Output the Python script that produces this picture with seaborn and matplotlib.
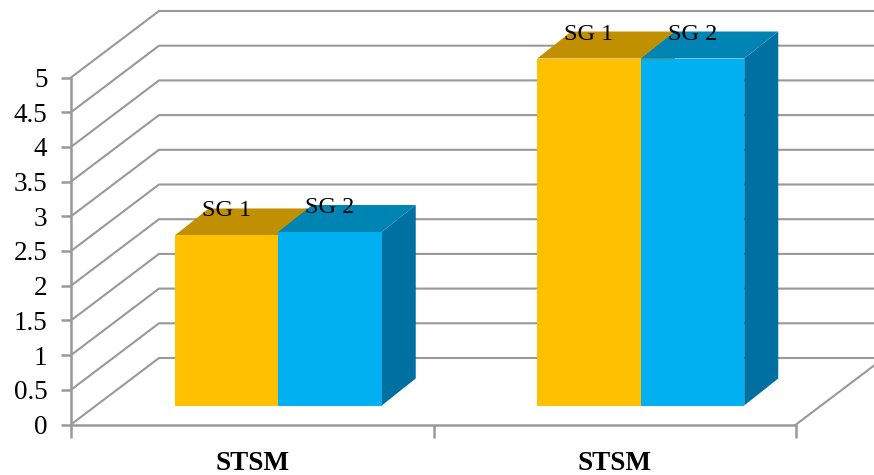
import matplotlib
matplotlib.use("Agg")
import matplotlib.pyplot as plt
from matplotlib.patches import Polygon
from matplotlib.colors import to_rgb
from matplotlib.transforms import ScaledTranslation
import pandas as pd
import seaborn as sns

groups = ["STSM", "STSM"]
group_ids = [0, 0, 1, 1]
series = ["SG 1", "SG 2", "SG 1", "SG 2"]
values = [2.45, 2.5, 5.0, 5.0]
y_ticks = [0, 0.5, 1, 1.5, 2, 2.5, 3, 3.5, 4, 4.5, 5]
y_tick_labels = ["0", "0.5", "1", "1.5", "2", "2.5", "3", "3.5", "4", "4.5", "5"]
palette = {"SG 1": "#FFC000", "SG 2": "#00B0F0"}
top_shade = {"SG 1": "#C09000", "SG 2": "#0084B4"}
side_shade = {"SG 1": "#C09000", "SG 2": "#0070A0"}

W, H = 874, 475
GRID = "#999999"
SERIF = "Liberation Serif"

# Plot box in pixels, measured from the top-left corner of the figure
LEFT, RIGHT, Y0, Y5 = 71, 796, 424.5, 77.5
# Wall depth and bar depth, in pixels
WALL_DX, WALL_DY = 88, 66.5
BAR_SHIFT_X, BAR_SHIFT_Y = 26, 19
BAR_DX, BAR_DY = 34, 27


def box(shift_x=0, shift_y=0):
    return [(LEFT + shift_x) / W, (H - Y0 + shift_y) / H,
            (RIGHT - LEFT) / W, (Y0 - Y5) / H]


sns.set_theme(style="white")
fig = plt.figure(figsize=(W / 100, H / 100), dpi=100)

ax = fig.add_axes(box())
ax.set_xlim(-0.5, 1.5)
ax.set_ylim(0, 5)
px_x = 2 / (RIGHT - LEFT)
px_y = 5 / (Y0 - Y5)

# Gridlines climb the side wall, then run along the back wall
wall_x = WALL_DX * px_x
wall_y = WALL_DY * px_y
for v in y_ticks:
    ax.plot([-0.5, -0.5 + wall_x, 1.5 + wall_x], [v, v + wall_y, v + wall_y],
            color=GRID, lw=1.5, clip_on=False, zorder=1, solid_joinstyle="miter")
ax.plot([1.5, 1.5 + wall_x], [0, wall_y], color=GRID, lw=1.5, clip_on=False, zorder=1)

ax.set_yticks(y_ticks, y_tick_labels, family=SERIF, fontsize=19.5, color="black")
ax.set_xticks([-0.5, 0.5, 1.5], ["", "", ""])
ax.set_xticks([0, 1], groups, minor=True, family=SERIF, fontsize=19.5,
              fontweight="bold", color="black")
ax.tick_params(axis="y", length=7, width=1.8, color=GRID, pad=10, left=True)
ax.tick_params(axis="x", which="major", length=9, width=1.8, color=GRID, bottom=True)
ax.tick_params(axis="x", which="minor", length=0, pad=19)
# Tick numerals sit slightly below their tick marks
nudge = ScaledTranslation(0, -3 / 100, fig.dpi_scale_trans)
for lbl in ax.get_yticklabels():
    lbl.set_verticalalignment("center")
    lbl.set_transform(lbl.get_transform() + nudge)
sns.despine(ax=ax)
for side in ("left", "bottom"):
    ax.spines[side].set_color(GRID)
    ax.spines[side].set_linewidth(1.8)

# Bars sit on a second, transparent axes pushed back into the floor
bar_ax = fig.add_axes(box(BAR_SHIFT_X, BAR_SHIFT_Y))
bar_ax.patch.set_alpha(0)
data = pd.DataFrame({"group": group_ids, "series": series, "value": values})
sns.barplot(data=data, x="group", y="value", hue="series", hue_order=["SG 1", "SG 2"],
            palette=palette, saturation=1, width=0.571, gap=0, errorbar=None,
            legend=False, ax=bar_ax, zorder=3, linewidth=0)
bar_ax.set_xlim(-0.5, 1.5)
bar_ax.set_ylim(0, 5)
bar_ax.axis("off")

dx = BAR_DX * px_x
dy = BAR_DY * px_y
bars = [p for p in bar_ax.patches]
names = ["SG 1"] * 2 + ["SG 2"] * 2
for bar, name in zip(bars, names):
    x0, w, h = bar.get_x(), bar.get_width(), bar.get_height()
    x1 = x0 + w
    z = 2 + (0.1 if name == "SG 2" else 0)
    bar_ax.add_patch(Polygon([(x1, 0), (x1 + dx, dy), (x1 + dx, h + dy), (x1, h)],
                             closed=True, fc=to_rgb(side_shade[name]), ec="none",
                             zorder=z, clip_on=False))
    bar_ax.add_patch(Polygon([(x0, h), (x0 + dx, h + dy), (x1 + dx, h + dy), (x1, h)],
                             closed=True, fc=to_rgb(top_shade[name]), ec="none",
                             zorder=z, clip_on=False))
    bar_ax.annotate(name, (x0 + w / 2, h), xytext=(0, 24.5), textcoords="offset pixels",
                    ha="center", va="center", family=SERIF, fontsize=17.5,
                    color="black", zorder=5, annotation_clip=False)

fig.savefig("out.png", dpi=100)
